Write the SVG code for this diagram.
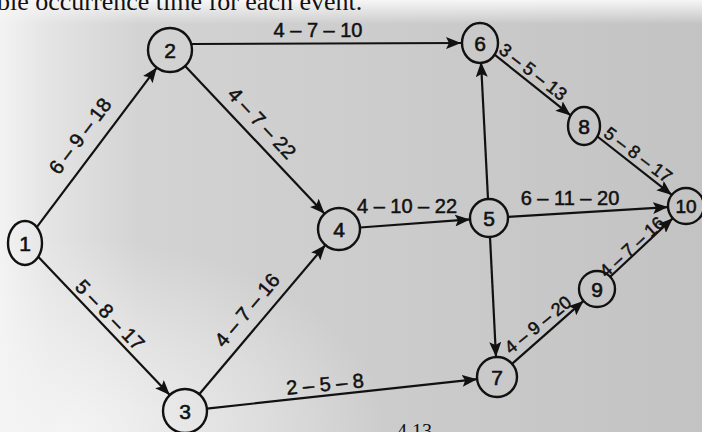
<svg xmlns="http://www.w3.org/2000/svg" width="702" height="432" viewBox="0 0 702 432">
<defs>
<linearGradient id="bg" x1="0" y1="0" x2="1" y2="0">
<stop offset="0" stop-color="#f3f3f3"/>
<stop offset="0.07" stop-color="#e4e4e4"/>
<stop offset="0.2" stop-color="#d3d3d3"/>
<stop offset="0.6" stop-color="#cbcbcb"/>
<stop offset="1" stop-color="#c3c3c3"/>
</linearGradient>
<linearGradient id="topband" x1="0" y1="0" x2="0" y2="1">
<stop offset="0" stop-color="#f6f6f6" stop-opacity="1"/>
<stop offset="1" stop-color="#f6f6f6" stop-opacity="0"/>
</linearGradient>
<radialGradient id="bl" cx="0.1" cy="1" r="0.45">
<stop offset="0" stop-color="#f5f5f5" stop-opacity="0.95"/>
<stop offset="1" stop-color="#f5f5f5" stop-opacity="0"/>
</radialGradient>
<marker id="ah" markerUnits="userSpaceOnUse" markerWidth="16" markerHeight="12" refX="15" refY="6" orient="auto">
<path d="M0,0 L15,6 L0,12 L3,6 Z" fill="#111"/>
</marker>
</defs>
<style>
.n{fill:none;stroke:#111;stroke-width:2.4}
.t{font-family:"Liberation Sans",Arial,sans-serif;font-size:21px;fill:#111;stroke:#111;stroke-width:0.6;text-anchor:middle}
.e{stroke:#111;stroke-width:2.2;fill:none;marker-end:url(#ah)}
.l{font-family:"Liberation Sans",Arial,sans-serif;font-size:20px;fill:#111;stroke:#111;stroke-width:0.5;text-anchor:middle}
.s{font-size:18px}
.cap{font-family:"Liberation Serif","Times New Roman",serif;font-size:26px;fill:#111}
</style>
<rect x="0" y="0" width="702" height="432" fill="url(#bg)"/>
<rect x="0" y="0" width="702" height="432" fill="url(#bl)"/>
<rect x="0" y="0" width="702" height="24" fill="url(#topband)"/>
<text class="cap" x="-3" y="10">ble occurrence time for each event.</text>
<text class="cap" x="397" y="438" style="font-size:20px">4.13</text>

<g id="connectors">
<line class="e" x1="36.8" y1="227.2" x2="156.8" y2="67.6"/>
<line class="e" x1="192" y1="44" x2="461" y2="43"/>
<line class="e" x1="185.1" y1="66" x2="324.6" y2="213.7"/>
<line class="e" x1="38.2" y1="256.8" x2="169.8" y2="395.1"/>
<line class="e" x1="199.2" y1="394.2" x2="325.4" y2="245"/>
<line class="e" x1="206.9" y1="408.6" x2="477.1" y2="379.2"/>
<line class="e" x1="360" y1="227.5" x2="470" y2="219.4"/>
<line class="e" x1="488" y1="199" x2="481" y2="62"/>
<line class="e" x1="508" y1="216.8" x2="668" y2="207.1"/>
<line class="e" x1="490" y1="237" x2="496" y2="357"/>
<line class="e" x1="494.9" y1="54.9" x2="570.7" y2="115.4"/>
<line class="e" x1="597.4" y1="136.5" x2="671.8" y2="194.9"/>
<line class="e" x1="512" y1="363.8" x2="583.5" y2="300.9"/>
<line class="e" x1="610.2" y1="276.7" x2="672.8" y2="218.3"/>
<text class="l" transform="translate(80 136) rotate(-53)" x="0" y="7">6 – 9 – 18</text>
<text class="l" x="318" y="37">4 – 7 – 10</text>
<text class="l" transform="translate(262 123) rotate(47)" x="0" y="7">4 – 7 – 22</text>
<text class="l" transform="translate(110 315) rotate(46)" x="0" y="7">5 – 8 – 17</text>
<text class="l" transform="translate(247 310) rotate(-50)" x="0" y="7">4 – 7 – 16</text>
<text class="l" transform="translate(325 384) rotate(-5.5)" x="0" y="7">2 – 5 – 8</text>
<text class="l" x="407" y="213">4 – 10 – 22</text>
<text class="l" x="570" y="205">6 – 11 – 20</text>
<text class="l s" transform="translate(533 72) rotate(38)" x="0" y="6">3 – 5 – 13</text>
<text class="l s" transform="translate(638 155) rotate(37)" x="0" y="6">5 – 8 – 17</text>
<text class="l s" transform="translate(538 325) rotate(-39)" x="0" y="6">4 – 9 – 20</text>
<text class="l s" transform="translate(632 247) rotate(-42)" x="0" y="6">4 – 7 – 16</text>
</g>

<g id="node1"><ellipse class="n" cx="25" cy="243" rx="17" ry="22"/><text class="t" x="25" y="250.5">1</text></g>
<g id="node2"><circle class="n" cx="170" cy="50" r="22"/><text class="t" x="170" y="57.5">2</text></g>
<g id="node3"><circle class="n" cx="185" cy="411" r="22"/><text class="t" x="185" y="418.5">3</text></g>
<g id="node4"><circle class="n" cx="339" cy="229" r="21"/><text class="t" x="339" y="236.5">4</text></g>
<g id="node5"><circle class="n" cx="489" cy="218" r="19"/><text class="t" x="489" y="225.5">5</text></g>
<g id="node6"><ellipse class="n" cx="480" cy="43" rx="18" ry="20"/><text class="t" x="480" y="50.5">6</text></g>
<g id="node7"><circle class="n" cx="497" cy="377" r="20"/><text class="t" x="497" y="384.5">7</text></g>
<g id="node8"><ellipse class="n" cx="584" cy="126" rx="16" ry="19"/><text class="t" x="584" y="133.5">8</text></g>
<g id="node9"><circle class="n" cx="597" cy="289" r="18"/><text class="t" x="597" y="296.5">9</text></g>
<g id="node10"><circle class="n" cx="686" cy="206" r="18"/><text class="t" x="686" y="213" style="font-size:19px">10</text></g>
</svg>
